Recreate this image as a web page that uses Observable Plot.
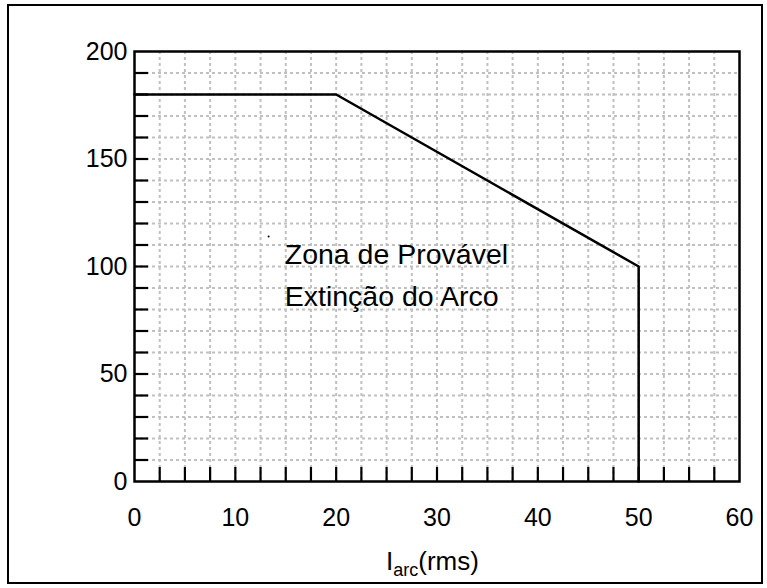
<!DOCTYPE html>
<html>
<head>
<meta charset="utf-8">
<script src="https://cdn.jsdelivr.net/npm/d3@7"></script>
<script src="https://cdn.jsdelivr.net/npm/@observablehq/plot@0.6"></script>
<style>
  body { margin: 0; background: #fff; }
  #chart { width: 767px; height: 588px; }
</style>
</head>
<body>
<div id="chart"></div>
<script>
// ---- data ----
const curveX = [0, 20, 50, 50];
const curveY = [180, 180, 100, 0];
const xTickLabels = [0, 10, 20, 30, 40, 50, 60];
const yTickLabels = [0, 50, 100, 150, 200];
const xMinorTicks = [2.5, 5, 7.5, 10, 12.5, 15, 17.5, 20, 22.5, 25, 27.5, 30, 32.5, 35, 37.5, 40, 42.5, 45, 47.5, 50, 52.5, 55, 57.5];
const yMinorTicks = [10, 20, 30, 40, 50, 60, 70, 80, 90, 100, 110, 120, 130, 140, 150, 160, 170, 180, 190];
const annotation = [{x: 14.9, y: 115, label: "Zona de Provável\nExtinção do Arco"}];
const markerPoint = [{x: 13.3, y: 114}];

const curve = curveX.map((x, i) => ({x, y: curveY[i]}));

// ---- layout ----
const W = 767, H = 588;
const mL = 134, mR = 28, mT = 51, mB = 107;
const innerW = W - mL - mR, innerH = H - mT - mB;
const tickLen = 14;
const gridStyle = {stroke: "#c0c0c0", strokeWidth: 2, strokeDasharray: "3,3"};

const plot = Plot.plot({
  width: W,
  height: H,
  marginLeft: mL,
  marginRight: mR,
  marginTop: mT,
  marginBottom: mB,
  style: {fontFamily: "'Liberation Sans', Arial, sans-serif", background: "#fff", color: "#000"},
  x: {domain: [0, 60], axis: null},
  y: {domain: [0, 200], axis: null},
  marks: [
    Plot.ruleX(xMinorTicks, {x: d => d, ...gridStyle}),
    Plot.ruleY(yMinorTicks, {y: d => d, ...gridStyle}),
    Plot.ruleX(xMinorTicks, {x: d => d, stroke: "#000", strokeWidth: 2.2, insetTop: innerH - tickLen}),
    Plot.ruleY(yMinorTicks, {y: d => d, stroke: "#000", strokeWidth: 2.2, insetRight: innerW - tickLen}),
    Plot.frame({stroke: "#000", strokeWidth: 2.5}),
    Plot.line(curve, {x: "x", y: "y", stroke: "#000", strokeWidth: 2.5}),
    Plot.dot(markerPoint, {x: "x", y: "y", r: 1, fill: "#000", stroke: null}),
    Plot.text(annotation, {x: "x", y: "y", text: "label", textAnchor: "start", lineAnchor: "top", lineHeight: 1.47, fontSize: 28.5, fill: "#000"}),
    Plot.axisX({ticks: xTickLabels, tickSize: 0, tickPadding: 27, fontSize: 25, tickFormat: d => String(d), anchor: "bottom", label: null}),
    Plot.axisY({ticks: yTickLabels, tickSize: 0, tickPadding: 7, fontSize: 25, tickFormat: d => String(d), anchor: "left", label: null})
  ]
});

document.getElementById("chart").appendChild(plot);

// outer border and x-axis title with subscript
const svg = d3.select(plot);
svg.append("rect")
  .attr("x", 8).attr("y", 5).attr("width", 754).attr("height", 578)
  .attr("fill", "none").attr("stroke", "#000").attr("stroke-width", 2);

const title = svg.append("text")
  .attr("x", mL + innerW / 2 - 4)
  .attr("y", 570)
  .attr("text-anchor", "middle")
  .attr("font-family", "'Liberation Sans', Arial, sans-serif")
  .attr("font-size", 26)
  .attr("fill", "#000");
title.append("tspan").text("I");
title.append("tspan").attr("font-size", 18).attr("dy", 6).text("arc");
title.append("tspan").attr("dy", -6).text("(rms)");
</script>
</body>
</html>
